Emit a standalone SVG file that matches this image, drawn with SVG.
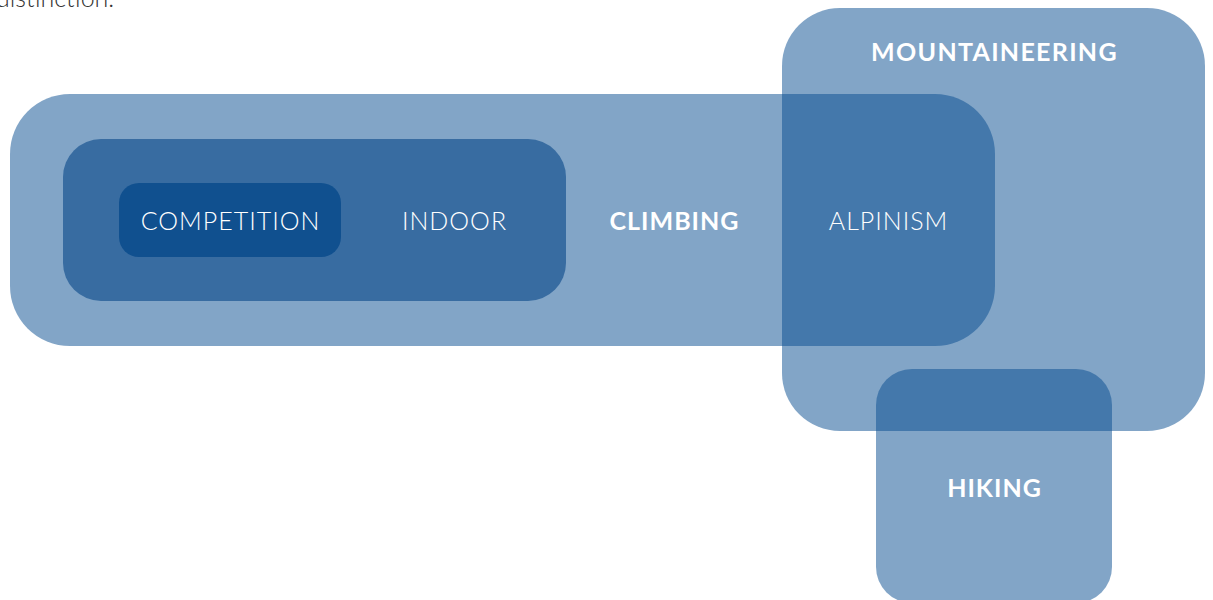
<svg xmlns="http://www.w3.org/2000/svg" width="1213" height="600" viewBox="0 0 1213 600">
<style>
.area{fill:rgb(5,75,143);fill-opacity:0.5}
.lbl{font-family:Lato,"Open Sans",sans-serif;font-size:25px;fill:#ffffff;text-anchor:middle;letter-spacing:1px}
.light{font-weight:300}
.bold{font-weight:700}
</style>
<rect width="1213" height="600" fill="#ffffff"/>
<text x="-4" y="7" font-family="Lato,sans-serif" font-weight="300" font-size="25" fill="#333333">distinction.</text>
<g id="climbing">
<rect class="area" x="10" y="94" width="985" height="252" rx="60"/>
<text class="lbl bold" x="674.5" y="230">CLIMBING</text>
</g>
<g id="mountaineering">
<rect class="area" x="782" y="8" width="423" height="423" rx="58"/>
<text class="lbl bold" x="994.5" y="61" style="letter-spacing:1.3px">MOUNTAINEERING</text>
</g>
<g id="hiking">
<rect class="area" x="876" y="369" width="236" height="234" rx="36"/>
<text class="lbl bold" x="994.5" y="497">HIKING</text>
</g>
<g id="indoor">
<rect x="63" y="139" width="503" height="162" rx="38" fill="#386ca1"/>
<text class="lbl light" x="454.5" y="230">INDOOR</text>
</g>
<g id="competition">
<rect x="119" y="183" width="222" height="74" rx="20" fill="#10508f"/>
<text class="lbl light" x="230.5" y="230">COMPETITION</text>
</g>
<g id="alpinism">
<text class="lbl light" x="888.5" y="230">ALPINISM</text>
</g>
<g id="connectors"/>
</svg>
